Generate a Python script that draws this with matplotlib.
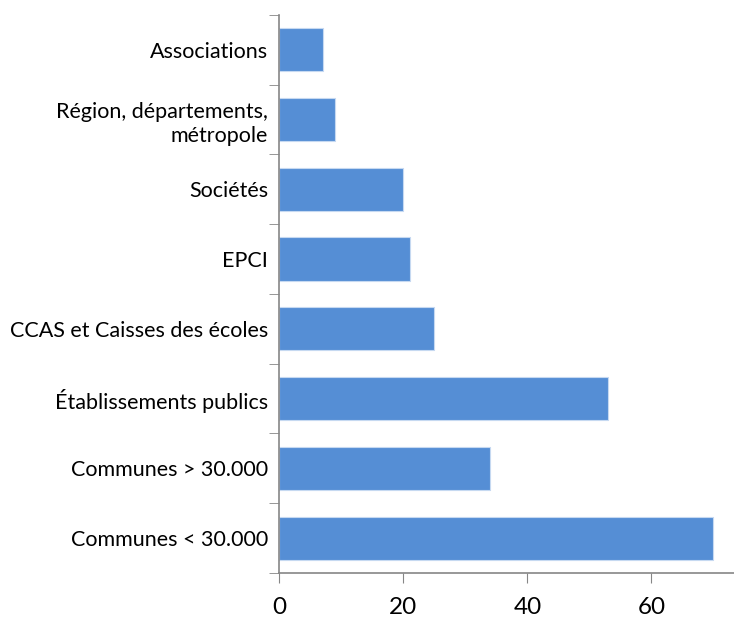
import numpy as np
import matplotlib.pyplot as plt

categories = [
    "Communes < 30.000",
    "Communes > 30.000",
    "Établissements publics",
    "CCAS et Caisses des écoles",
    "EPCI",
    "Sociétés",
    "Région, départements,\nmétropole",
    "Associations",
]
values = [70, 34, 53, 25, 21, 20, 9, 7]

plt.rcParams["font.family"] = ["Lato", "DejaVu Sans"]

fig = plt.figure(figsize=(7.34, 6.18), dpi=100)
ax = fig.add_axes([0.3805, 0.0728, 0.676, 0.903])

y = np.arange(len(categories))
ax.barh(y, values, height=0.62, color="#558ED5", edgecolor="#C6D9F1", linewidth=0.8)

ax.set_xlim(0, 80)
ax.set_ylim(-0.5, len(categories) - 0.5)
ax.set_xticks([0, 20, 40, 60])
ax.tick_params(axis="x", labelsize=17.5, length=7, color="#868686", pad=10)

ax.set_yticks(y)
ax.set_yticklabels(categories, fontsize=15.5, ha="right", multialignment="right",
                   linespacing=1.3)
ax.set_yticks(np.arange(-0.5, len(categories)), minor=True)
ax.tick_params(axis="y", which="major", length=0, pad=8)
ax.tick_params(axis="y", which="minor", length=7, color="#868686")

for side in ["top", "right"]:
    ax.spines[side].set_visible(False)
for side in ["left", "bottom"]:
    ax.spines[side].set_color("#868686")
    ax.spines[side].set_linewidth(1.2)

fig.savefig("out.png", dpi=100)
